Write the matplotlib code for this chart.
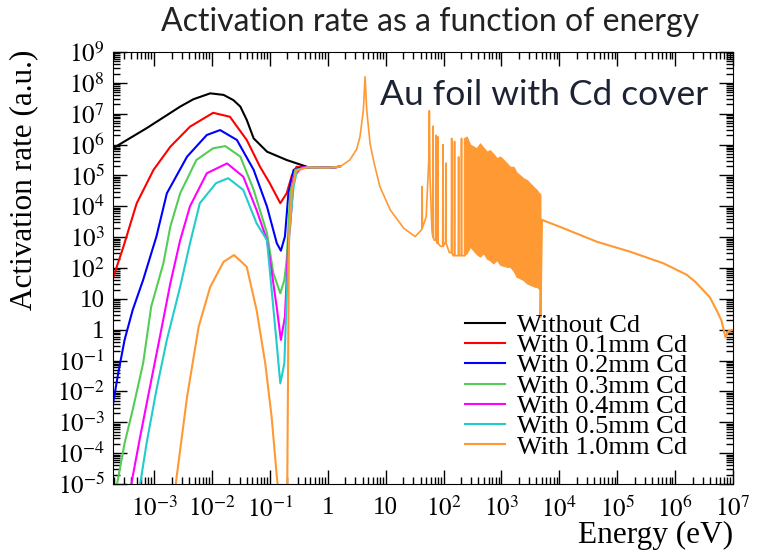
import numpy as np
import matplotlib
matplotlib.use('Agg')
import matplotlib.pyplot as plt
from matplotlib.ticker import LogLocator, FuncFormatter, NullFormatter

# values, stored as log10(E / eV) and log10(rate)
black_logE = [-3.71, -3.13, -2.55, -2.32, -2.03, -1.80, -1.63, -1.51, -1.40, -1.28, -1.05, -0.71, -0.36]
black_logR = [5.88, 6.53, 7.23, 7.47, 7.66, 7.61, 7.44, 7.23, 6.80, 6.20, 5.77, 5.50, 5.28]

red_logE = [-3.71, -3.53, -3.30, -3.01, -2.72, -2.38, -1.98, -1.69, -1.40, -1.17, -1.00, -0.82, -0.71, -0.62, -0.54, -0.36]
red_logR = [1.67, 2.69, 4.10, 5.18, 5.93, 6.58, 7.03, 6.90, 6.15, 5.28, 4.74, 4.10, 4.42, 5.00, 5.28, 5.26]

blue_logE = [-3.71, -3.62, -3.51, -3.37, -3.19, -2.96, -2.78, -2.43, -2.09, -1.86, -1.57, -1.28, -1.05, -0.88, -0.81, -0.74, -0.68, -0.59, -0.45]
blue_logR = [-2.40, -1.41, -0.33, 0.64, 1.61, 3.02, 4.42, 5.61, 6.31, 6.47, 6.15, 5.18, 3.99, 2.80, 2.56, 3.02, 4.42, 5.18, 5.26]

green_logE = [-3.65, -3.51, -3.37, -3.19, -3.05, -2.84, -2.72, -2.55, -2.27, -1.98, -1.77, -1.51, -1.28, -1.05, -0.94, -0.82, -0.75, -0.71, -0.65, -0.56, -0.36]
green_logR = [-5.1, -3.68, -2.60, -1.09, 0.75, 2.15, 3.34, 4.42, 5.50, 5.88, 5.95, 5.61, 4.53, 3.13, 1.83, 1.18, 1.61, 2.26, 4.42, 5.18, 5.26]

magenta_logE = [-3.40, -3.37, -3.24, -3.07, -2.90, -2.72, -2.55, -2.38, -2.09, -1.74, -1.46, -1.23, -1.05, -0.97, -0.88, -0.81, -0.74, -0.68, -0.65, -0.59, -0.45]
magenta_logR = [-5.1, -4.76, -3.46, -1.84, -0.23, 1.50, 2.90, 4.00, 5.07, 5.39, 4.96, 3.88, 2.90, 1.90, 0.70, -0.33, 0.42, 2.91, 3.34, 4.96, 5.26]

cyan_logE = [-3.25, -3.22, -3.13, -2.96, -2.78, -2.55, -2.38, -2.21, -1.93, -1.72, -1.46, -1.23, -1.05, -0.97, -0.88, -0.82, -0.75, -0.71, -0.66, -0.59, -0.53, -0.36]
cyan_logR = [-5.1, -4.76, -3.68, -1.95, -0.33, 1.39, 2.80, 4.10, 4.75, 4.91, 4.53, 3.45, 2.90, 1.30, -0.50, -1.74, -1.09, 1.07, 3.23, 4.64, 5.18, 5.26]

orange_logE = [-2.63, -2.61, -2.43, -2.23, -2.03, -1.80, -1.62, -1.40, -1.23, -1.08, -0.97, -0.88, -0.86,
               np.nan, -0.70, -0.67, -0.62, -0.55, -0.36]
orange_logR = [-5.1, -4.76, -2.17, 0.10, 1.39, 2.20, 2.42, 2.04, 0.64, -1.09, -2.82, -4.76, -5.1,
               np.nan, -5.1, 3.0, 4.5, 5.15, 5.26]

# flat part shared by every curve
flat_logE = [-0.36, 0.00, 0.21]
flat_logR = [5.26, 5.25, 5.28]

# 4.9 eV resonance and the first resolved resonances (valley, peak, valley ...)
res_logE = [0.21, 0.38, 0.50, 0.557, 0.615, 0.644, 0.673, 0.73, 0.80, 0.90, 1.08, 1.25, 1.31, 1.51, 1.60,
            1.625, 1.63, 1.635, 1.70, 1.745, 1.755, 1.765, 1.80, 1.815, 1.82, 1.825, 1.84, 1.865, 1.87, 1.875,
            1.885, 1.895, 1.90, 1.905, 1.95, 1.985, 1.99, 1.995, 2.02, 2.035, 2.04, 2.045, 2.10, 2.135, 2.14,
            2.145, 2.165, 2.185, 2.19, 2.195, 2.23, 2.255, 2.26, 2.265, 2.285, 2.305, 2.31, 2.315, 2.35]
res_logR = [5.28, 5.50, 5.85, 6.26, 7.12, 8.20, 7.12, 6.04, 5.40, 4.64, 3.88, 3.45, 3.29, 3.02, 3.20,
            3.25, 4.64, 3.30, 3.66, 5.50, 7.10, 5.00, 3.20, 3.00, 6.60, 3.00, 2.90, 2.90, 6.30, 2.90,
            2.80, 2.80, 6.25, 2.80, 2.70, 2.70, 6.00, 2.70, 2.80, 2.80, 5.40, 2.80, 2.50, 2.50, 6.20,
            2.50, 2.40, 2.40, 6.10, 2.40, 2.40, 2.40, 5.60, 2.40, 2.40, 2.40, 6.20, 2.40, 2.40]

# unresolved resonance band, upper and lower envelope
band_logE = [2.35, 2.40, 2.46, 2.57, 2.63, 2.69, 2.75, 2.80, 2.86, 2.92, 2.98, 3.09, 3.15, 3.21, 3.26, 3.38, 3.44, 3.58, 3.61, 3.67]
band_hi = [6.20, 6.26, 6.00, 5.88, 6.04, 5.90, 5.77, 5.82, 5.70, 5.56, 5.61, 5.40, 5.28, 5.28, 5.10, 4.91, 4.85, 4.58, 4.53, 4.37]
band_lo = [2.40, 2.48, 2.69, 2.45, 2.37, 2.48, 2.30, 2.25, 2.15, 2.26, 2.10, 2.04, 2.04, 1.90, 1.72, 1.61, 1.50, 1.39, 1.39, 1.29]

# fast part after the band
tail_logE = [3.67, 3.675, 3.70, 4.07, 4.65, 5.22, 5.80, 6.20, 6.35, 6.50, 6.60, 6.72, 6.80, 6.87, 6.92, 7.00]
tail_logR = [4.37, 0.42, 3.56, 3.29, 2.85, 2.53, 2.15, 1.78, 1.55, 1.25, 1.05, 0.62, 0.30, -0.25, -0.05, 0.00]

labels = ['Without Cd', 'With 0.1mm Cd', 'With 0.2mm Cd', 'With 0.3mm Cd',
          'With 0.4mm Cd', 'With 0.5mm Cd', 'With 1.0mm Cd']
colors = ['#000000', '#ff0000', '#0000ff', '#55cc55', '#ff00ff', '#22cccc', '#ff9933']

plt.rcParams['font.family'] = ['Liberation Serif', 'DejaVu Serif']
plt.rcParams['mathtext.fontset'] = 'stix'

fig = plt.figure(figsize=(7.57, 5.53), dpi=100)
ax = fig.add_axes([113 / 757, 1 - 484 / 553, 620 / 757, 432 / 553])


def pw(v):
    return np.power(10.0, np.array(v, dtype=float))


thermal = [(black_logE, black_logR), (red_logE, red_logR), (blue_logE, blue_logR),
           (green_logE, green_logR), (magenta_logE, magenta_logR), (cyan_logE, cyan_logR)]
for (le, lr), lab, col in zip(thermal, labels[:6], colors[:6]):
    ax.plot(pw(le + flat_logE), pw(lr + flat_logR), color=col, lw=1.5, label=lab)

# 1.0 mm curve: thermal part, flat part, resonances, band and tail
ax.plot(pw(orange_logE + flat_logE), pw(orange_logR + flat_logR), color=colors[6], lw=1.5, label=labels[6])
ax.plot(pw(res_logE), pw(res_logR), color=colors[6], lw=1.2)
ax.fill_between(pw(band_logE), pw(band_lo), pw(band_hi), color=colors[6], lw=0.8)
ax.plot(pw(tail_logE), pw(tail_logR), color=colors[6], lw=1.5)

ax.set_xscale('log')
ax.set_yscale('log')
ax.set_xlim(10 ** -3.71, 1e7)
ax.set_ylim(1e-5, 1e9)


def dec_fmt(v, pos):
    n = int(round(np.log10(v)))
    if n == 0:
        return '1'
    if n == 1:
        return '10'
    return r'$10^{%d}$' % n


for axis in (ax.xaxis, ax.yaxis):
    axis.set_major_locator(LogLocator(base=10, numticks=30))
    axis.set_minor_locator(LogLocator(base=10, subs=np.arange(2, 10), numticks=30))
    axis.set_major_formatter(FuncFormatter(dec_fmt))
    axis.set_minor_formatter(NullFormatter())

ax.tick_params(which='both', direction='in', top=True, right=True, labelsize=18, width=1)
ax.tick_params(which='major', length=10, pad=6)
ax.tick_params(which='minor', length=5)
ax.tick_params(axis='x', which='major', pad=9)

ax.set_xlabel('Energy (eV)', fontsize=22.5, loc='right')
ax.xaxis.set_label_coords(1.0, -0.085)
ax.set_ylabel('Activation rate (a.u.)', fontsize=22.5, loc='top')
ax.yaxis.set_label_coords(-0.12, 1.005)

ax.legend(loc='upper left', bbox_to_anchor=(0.568, 0.395), frameon=False, fontsize=19,
          handlelength=1.5, handletextpad=0.45, labelspacing=-0.12, borderpad=0, borderaxespad=0)

fig.text(430 / 757, 1 - 22 / 553, 'Activation rate as a function of energy', ha='center', va='center',
         family='Lato', fontsize=23, color='#222222')
fig.text(380 / 757, 1 - 95 / 553, 'Au foil with Cd cover', ha='left', va='center',
         family='Lato', fontsize=25.5, color='#1c2333')

fig.savefig('out.png', dpi=100)
